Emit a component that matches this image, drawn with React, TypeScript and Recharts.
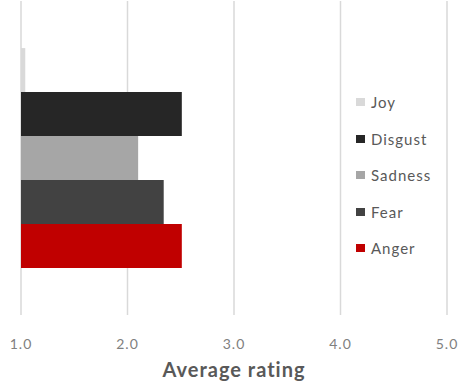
import React from 'react';
import { BarChart, Bar, XAxis, YAxis, CartesianGrid, Legend } from 'recharts';

// One group of bars: average rating per emotion
const categories = ['Average'];
const emotions = ['Joy', 'Disgust', 'Sadness', 'Fear', 'Anger'];
const ratings = [1.04, 2.51, 2.1, 2.34, 2.51];
const xTicks = [1, 2, 3, 4, 5];

const palette: Record<string, string> = {
  Joy: '#d9d9d9',
  Disgust: '#262626',
  Sadness: '#a6a6a6',
  Fear: '#424242',
  Anger: '#c00000',
};

const data = categories.map((name) => {
  const row: Record<string, string | number> = { name };
  emotions.forEach((e, i) => {
    row[e] = ratings[i];
  });
  return row;
});

const FONT = 'Lato, "Open Sans", sans-serif';

const LegendList = () => (
  <div style={{ fontFamily: FONT }}>
    {emotions.map((e) => (
      <div
        key={e}
        style={{ display: 'flex', alignItems: 'center', height: 36.5 }}
      >
        <span
          style={{
            display: 'inline-block',
            width: 9,
            height: 8,
            background: palette[e],
            marginRight: 6,
          }}
        />
        <span style={{ fontSize: 15, color: '#595959', letterSpacing: 1 }}>{e}</span>
      </div>
    ))}
  </div>
);

export default function App() {
  return (
    <div style={{ position: 'absolute', left: 0, top: 0, width: 463, height: 387, background: '#fff' }}>
      <BarChart
        width={463}
        height={387}
        data={data}
        layout="vertical"
        margin={{ top: 1, right: 16, bottom: 0, left: 21 }}
        barCategoryGap="15%"
        barGap={0}
      >
        <CartesianGrid horizontal={false} stroke="#d9d9d9" strokeWidth={1.5} />
        <XAxis
          type="number"
          domain={[1, 5]}
          ticks={xTicks}
          allowDataOverflow
          axisLine={false}
          tickLine={false}
          tickMargin={18}
          height={72}
          tickFormatter={(v: number) => v.toFixed(1)}
          tick={{ fontFamily: FONT, fontSize: 14, fill: '#808080', letterSpacing: 1 }}
          label={{
            value: 'Average rating',
            position: 'insideBottom',
            offset: 10,
            style: { fontFamily: FONT, fontSize: 20, fontWeight: 700, fill: '#595959', letterSpacing: 1 },
          }}
        />
        <YAxis type="category" dataKey="name" hide />
        <Legend
          layout="vertical"
          align="center"
          verticalAlign="middle"
          content={<LegendList />}
          wrapperStyle={{ left: 356, top: 84, width: 100 }}
        />
        {emotions.map((e) => (
          <Bar key={e} dataKey={e} fill={palette[e]} isAnimationActive={false} />
        ))}
      </BarChart>
    </div>
  );
}
